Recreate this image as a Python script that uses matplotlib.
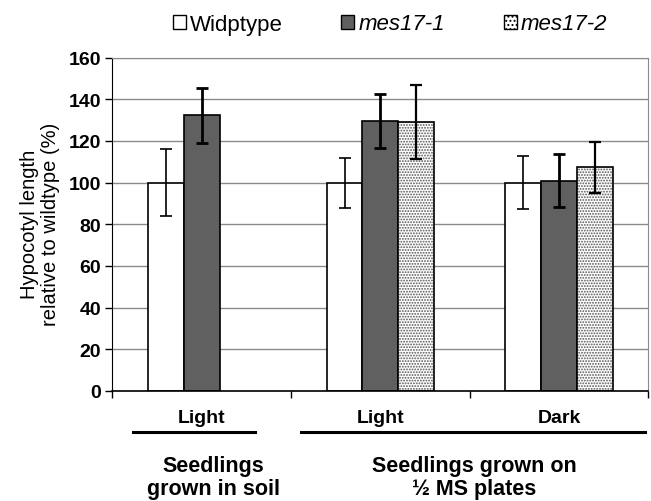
import numpy as np
import matplotlib
matplotlib.use("Agg")
import matplotlib.pyplot as plt
from matplotlib.patches import Patch
from matplotlib.lines import Line2D
import matplotlib.transforms as mtransforms

plt.rcParams['font.family'] = ['Liberation Sans', 'DejaVu Sans']
plt.rcParams['hatch.linewidth'] = 0.9

categories = ["Light", "Light", "Dark"]
series_names = ["Widptype", "mes17-1", "mes17-2"]
wildtype = [100, 100, 100]
wildtype_err = [16, 12, 12.6]
mes17_1 = [132.4, 129.5, 101]
mes17_1_err = [13.2, 13, 12.8]
mes17_2 = [np.nan, 129.2, 107.3]
mes17_2_err = [np.nan, 17.7, 12.2]
yticks = [0, 20, 40, 60, 80, 100, 120, 140, 160]
group_texts = ["Seedlings\ngrown in soil", "Seedlings grown on\n\u00bd MS plates"]

W, H = 651, 502
fig = plt.figure(figsize=(W/100, H/100), dpi=100)
ax = fig.add_axes([112.3/W, 1-392/H, 536/W, 333.4/H])

x = np.arange(len(categories))
w = 0.2
ax.set_axisbelow(True)
ax.yaxis.grid(True, color='#8a8a8a', lw=1)

ax.bar(x - w, wildtype, w, color='white', edgecolor='black', lw=1.2, zorder=2)
ax.bar(x, mes17_1, w, color='#606060', edgecolor='black', lw=1.2, zorder=2)
ax.bar(x + w, mes17_2, w, color='white', edgecolor='#555555', lw=0, hatch='......', zorder=2)
ax.bar(x + w, mes17_2, w, color='none', edgecolor='black', lw=1.2, zorder=3)

ax.errorbar(x - w, wildtype, yerr=wildtype_err, fmt='none', ecolor='black', elinewidth=1.2, capsize=4, capthick=1.2, zorder=4)
ax.errorbar(x, mes17_1, yerr=mes17_1_err, fmt='none', ecolor='black', elinewidth=2, capsize=4, capthick=2, zorder=4)
ax.errorbar(x + w, mes17_2, yerr=mes17_2_err, fmt='none', ecolor='black', elinewidth=1.6, capsize=4, capthick=1.6, zorder=4)

ax.set_xlim(-0.5, len(categories) - 0.5)
ax.set_ylim(0, 160)
ax.set_yticks(yticks)
ax.tick_params(axis='y', direction='out', length=5, width=1, labelsize=14, pad=3)
for lab in ax.get_yticklabels():
    lab.set_fontweight('bold')

ax.set_xticks(np.arange(len(categories) + 1) - 0.5)
ax.set_xticklabels([])
ax.tick_params(axis='x', which='major', direction='out', length=5, width=1)
ax.set_xticks(x, minor=True)
ax.set_xticklabels(categories, minor=True, fontsize=14, fontweight='bold')
ax.tick_params(axis='x', which='minor', length=0, pad=13)

for s in ['top', 'right']:
    ax.spines[s].set_color('#8a8a8a')
ax.spines['left'].set_color('black')
ax.spines['bottom'].set_color('black')
ax.spines['bottom'].set_linewidth(1.2)

ax.set_ylabel("Hypocotyl length\nrelative to wildtype (%)", fontsize=14.5, linespacing=1.1)
ax.yaxis.set_label_coords(-(112.3 - 60) / 536, (392 - 224) / 333.4)

# group brackets
trans = mtransforms.blended_transform_factory(ax.transData, ax.transAxes)
ax.add_line(Line2D([-0.385, 0.30], [-0.122, -0.122], transform=trans, color='black', lw=2.2, clip_on=False))
ax.add_line(Line2D([0.556, 2.484], [-0.122, -0.122], transform=trans, color='black', lw=2.2, clip_on=False))
ax.text(0.064, -0.258, group_texts[0], transform=trans, ha='center', va='center',
        fontsize=15.5, fontweight='bold', linespacing=1.1)
ax.text(1.524, -0.258, group_texts[1], transform=trans, ha='center', va='center',
        fontsize=15.5, fontweight='bold', linespacing=1.1)

handles = [Patch(facecolor='white', edgecolor='black', lw=1),
           Patch(facecolor='#606060', edgecolor='black', lw=1),
           Patch(facecolor='white', edgecolor='black', lw=1, hatch='....')]
leg = fig.legend(handles, series_names, loc='center',
                 bbox_to_anchor=(390/W, 1-25/H), ncol=3, frameon=False, fontsize=16,
                 handlelength=0.58, handleheight=0.58, handletextpad=0.18, columnspacing=2.65,
                 borderpad=0, borderaxespad=0)
for i, t in enumerate(leg.get_texts()):
    if i > 0:
        t.set_fontstyle('italic')

fig.savefig("out.png", dpi=100)
